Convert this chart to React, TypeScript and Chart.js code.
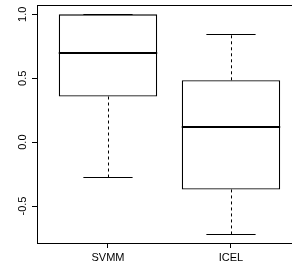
import React, { useEffect, useRef } from "react";
import { Chart, registerables } from "chart.js";

Chart.register(...registerables);

const categories = ["SVMM", "ICEL"];
const whiskerLow = [-0.276, -0.721];
const q1 = [0.357, -0.37];
const median = [0.70, 0.117];
const q3 = [1.0, 0.484];
const whiskerHigh = [1.0, 0.849];
const yTicks = [-0.5, 0, 0.5, 1.0];

const FONT = "Liberation Sans, Arial, sans-serif";

const boxPlugin = {
  id: "boxExtras",
  afterDatasetsDraw(chart: any) {
    const { ctx, chartArea } = chart;
    const xs = chart.scales.x;
    const ys = chart.scales.y;
    ctx.save();
    ctx.strokeStyle = "#000";
    for (let i = 0; i < categories.length; i++) {
      const cx = xs.getPixelForValue(i + 1);
      const capHalf = xs.getPixelForValue(i + 1 + 0.2) - cx;
      const boxHalf = xs.getPixelForValue(i + 1 + 0.4) - cx;
      const xc = Math.round(cx) + 0.5;
      // whiskers (dashed)
      ctx.lineWidth = 1;
      ctx.setLineDash([3, 3]);
      ctx.beginPath();
      ctx.moveTo(xc, ys.getPixelForValue(q3[i]));
      ctx.lineTo(xc, ys.getPixelForValue(whiskerHigh[i]));
      ctx.moveTo(xc, ys.getPixelForValue(q1[i]));
      ctx.lineTo(xc, ys.getPixelForValue(whiskerLow[i]));
      ctx.stroke();
      ctx.setLineDash([]);
      // caps
      ctx.lineWidth = 1.2;
      ctx.beginPath();
      const yh = Math.round(ys.getPixelForValue(whiskerHigh[i])) + 0.5;
      const yl = Math.round(ys.getPixelForValue(whiskerLow[i])) + 0.5;
      ctx.moveTo(cx - capHalf, yh);
      ctx.lineTo(cx + capHalf, yh);
      ctx.moveTo(cx - capHalf, yl);
      ctx.lineTo(cx + capHalf, yl);
      ctx.stroke();
      // median
      ctx.lineWidth = 1.8;
      ctx.beginPath();
      const ym = Math.round(ys.getPixelForValue(median[i]));
      ctx.moveTo(cx - boxHalf, ym);
      ctx.lineTo(cx + boxHalf, ym);
      ctx.stroke();
    }
    // frame top (right edge of the frame lies outside the picture)
    ctx.lineWidth = 1;
    ctx.beginPath();
    ctx.moveTo(chartArea.left, Math.round(chartArea.top) + 0.5);
    ctx.lineTo(chartArea.right, Math.round(chartArea.top) + 0.5);
    ctx.stroke();
    // y tick labels rotated
    ctx.fillStyle = "#000";
    ctx.font = `11px ${FONT}`;
    ctx.textAlign = "center";
    ctx.textBaseline = "alphabetic";
    for (const t of yTicks) {
      const y = ys.getPixelForValue(t);
      ctx.save();
      ctx.translate(25.5, y);
      ctx.rotate(-Math.PI / 2);
      ctx.fillText(t.toFixed(1), 0, 0);
      ctx.restore();
    }
    ctx.restore();
  },
};

export default function App() {
  const ref = useRef<HTMLCanvasElement>(null);
  useEffect(() => {
    if (!ref.current) return;
    const chart = new Chart(ref.current, {
      type: "bar",
      data: {
        datasets: [
          {
            data: categories.map((c, i) => ({ x: i + 1, y: [q1[i], q3[i]] })) as any,
            backgroundColor: "#ffffff",
            borderColor: "#000000",
            borderWidth: 1.3,
            borderSkipped: false,
            categoryPercentage: 0.8,
            barPercentage: 1,
          },
        ],
      },
      options: {
        animation: false,
        responsive: false,
        layout: { padding: { top: 5, right: 0, left: 0, bottom: 0 } },
        plugins: { legend: { display: false }, tooltip: { enabled: false } },
        scales: {
          x: {
            type: "linear",
            min: 0.423,
            max: 2.496,
            offset: false,
            afterBuildTicks: (s: any) => {
              s.ticks = [{ value: 1 }, { value: 2 }];
            },
            afterFit: (s: any) => {
              s.height = 22;
            },
            ticks: {
              callback: (v: any) => categories[Number(v) - 1] ?? "",
              color: "#000",
              font: { family: FONT, size: 11 },
              padding: 3,
              maxRotation: 0,
              autoSkip: false,
            },
            grid: { offset: false, drawOnChartArea: false, drawTicks: true, tickLength: 5, color: "#000" },
            border: { display: true, color: "#000", width: 1 },
          },
          y: {
            type: "linear",
            min: -0.789,
            max: 1.073,
            afterBuildTicks: (s: any) => {
              s.ticks = yTicks.map((v) => ({ value: v }));
            },
            afterFit: (s: any) => {
              s.width = 37;
            },
            ticks: { display: false },
            grid: { drawOnChartArea: false, drawTicks: true, tickLength: 5, color: "#000" },
            border: { display: true, color: "#000", width: 1 },
          },
        },
      },
      plugins: [boxPlugin],
    });
    return () => chart.destroy();
  }, []);
  return (
    <div style={{ position: "absolute", left: 0, top: 0, width: 292, height: 265, background: "#fff" }}>
      <canvas ref={ref} width={292} height={265} style={{ display: "block" }} />
    </div>
  );
}
